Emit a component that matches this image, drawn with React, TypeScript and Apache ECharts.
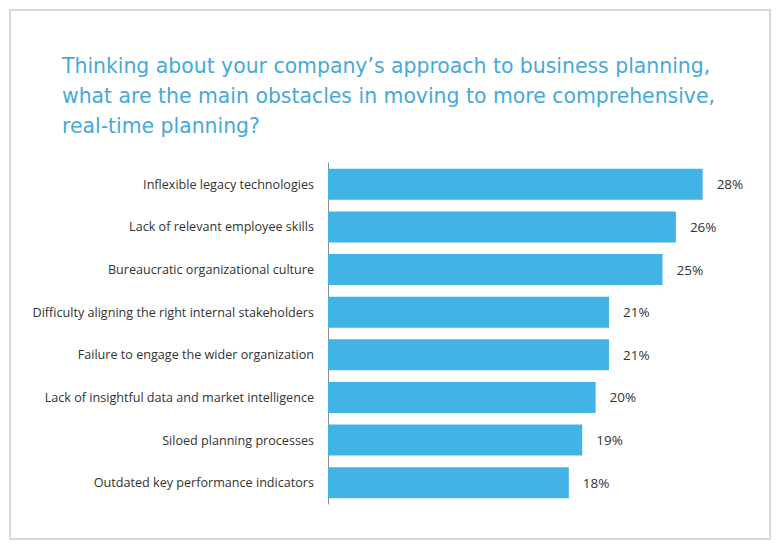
import React, { useEffect, useRef } from "react";
import * as echarts from "echarts";

const titleLines = [
  "Thinking about your company\u2019s approach to business planning,",
  "what are the main obstacles in moving to more comprehensive,",
  "real-time planning?",
];

const categories = [
  "Inflexible legacy technologies",
  "Lack of relevant employee skills",
  "Bureaucratic organizational culture",
  "Difficulty aligning the right internal stakeholders",
  "Failure to engage the wider organization",
  "Lack of insightful data and market intelligence",
  "Siloed planning processes",
  "Outdated key performance indicators",
];

const values = [28, 26, 25, 21, 21, 20, 19, 18];

const FONT = "'Open Sans', sans-serif";

export default function App() {
  const ref = useRef<HTMLDivElement>(null);
  useEffect(() => {
    if (!ref.current) return;
    const chart = echarts.init(ref.current, undefined, { renderer: "svg" });
    chart.setOption({
      animation: false,
      backgroundColor: "#ffffff",
      title: {
        text: titleLines.join("\n"),
        left: 57,
        top: 46,
        textStyle: {
          color: "#45a9db",
          fontSize: 20.4,
          fontWeight: "normal",
          fontFamily: "'DejaVu Sans', sans-serif",
          lineHeight: 30,
        },
      },
      graphic: [
        {
          type: "rect",
          shape: { x: 10, y: 10, width: 760, height: 529 },
          style: { fill: "none", stroke: "#d9d9d9", lineWidth: 2 },
          silent: true,
        },
      ],
      grid: { left: 328, top: 163, height: 341, width: 401.4 },
      xAxis: {
        type: "value",
        min: 0,
        max: 30,
        show: false,
      },
      yAxis: {
        type: "category",
        data: categories,
        inverse: true,
        axisLine: { show: true, lineStyle: { color: "#8c8c8c", width: 1 } },
        axisTick: { show: false },
        axisLabel: {
          color: "#333333",
          fontSize: 12.6,
          fontFamily: FONT,
          margin: 14,
          padding: [4, 0, 0, 0],
        },
      },
      series: [
        {
          type: "bar",
          data: values,
          barWidth: 31,
          itemStyle: { color: "#41b3e5" },
          label: {
            show: true,
            position: "right",
            distance: 14,
            formatter: "{c}%",
            color: "#333333",
            fontSize: 13.5,
            fontFamily: FONT,
            padding: [3, 0, 0, 0],
          },
        },
      ],
    });
    return () => chart.dispose();
  }, []);
  return (
    <div
      ref={ref}
      style={{ position: "absolute", left: 0, top: 0, width: 780, height: 550 }}
    />
  );
}
